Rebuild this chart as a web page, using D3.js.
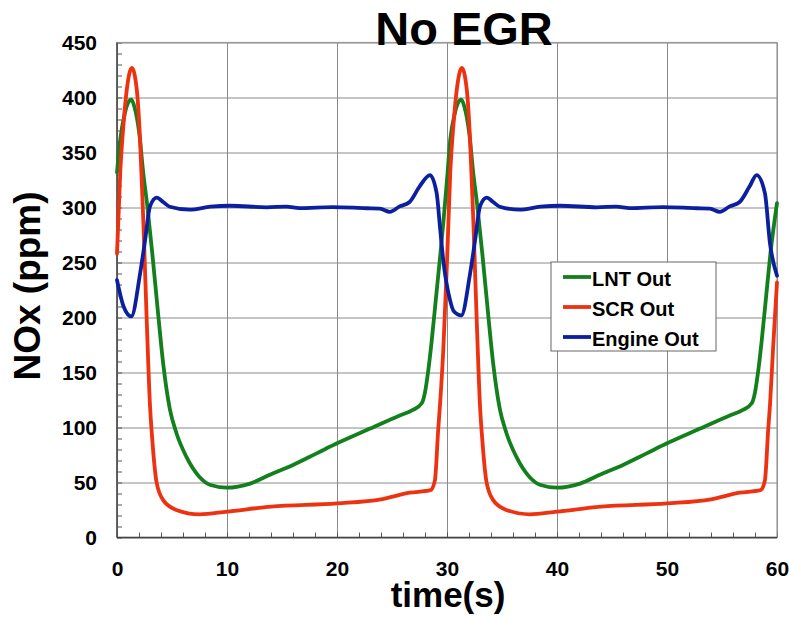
<!DOCTYPE html>
<html>
<head>
<meta charset="utf-8">
<script src="https://cdn.jsdelivr.net/npm/d3@7"></script>
<style>
  body { margin: 0; background: #fff; }
  text { font-family: "Liberation Sans", Arial, sans-serif; font-weight: bold; fill: #000; }
</style>
</head>
<body>
<div id="chart"></div>
<script>
// time (s) and NOx (ppm), one pair of arrays per series
var lntTime = [0, 0.3, 0.7, 1.0, 1.3, 1.6, 2.03, 2.39, 2.76, 3.24, 3.76, 4.2, 4.8, 5.4, 6.3, 7.5, 8.5, 10, 12.1, 13.9, 16, 18.15, 20, 23, 25.7, 26.9, 27.7, 28.0, 28.3, 28.6, 29.0, 29.4, 29.7,
    30, 30.3, 30.7, 31.0, 31.3, 31.6, 32.03, 32.39, 32.76, 33.24, 33.76, 34.2, 34.8, 35.4, 36.3, 37.5, 38.5, 40, 42.1, 43.9, 46, 48.15, 50, 53, 55.7, 56.9, 57.7, 58.0, 58.3, 58.6, 59.0, 59.4, 60];
var lntValues = [332, 362, 385, 395, 398, 391, 367, 331, 301, 255, 201, 158, 117, 95, 73.5, 55, 47.7, 45.3, 49, 57, 66, 76.5, 85.6, 99, 111, 116, 122, 132, 152, 178, 218, 258, 290,
    325, 362, 385, 395, 398, 391, 367, 331, 301, 255, 201, 158, 117, 95, 73.5, 55, 47.7, 45.3, 49, 57, 66, 76.5, 85.6, 99, 111, 116, 122, 132, 152, 178, 218, 258, 304];

var scrTime = [0, 0.3, 0.6, 0.9, 1.35, 1.8, 2.1, 2.4, 2.7, 3.0, 3.2, 3.6, 4.2, 5.4, 7.5, 10, 14, 20, 24, 26.6, 28.5, 28.9, 29.2, 29.36, 29.66,
    30, 30.3, 30.6, 30.9, 31.35, 31.8, 32.1, 32.4, 32.7, 33.0, 33.2, 33.6, 34.2, 35.4, 37.5, 40, 44, 50, 54, 56.6, 58.5, 58.9, 59.2, 59.36, 59.66, 60];
var scrValues = [258, 333, 377, 408, 427, 407, 361, 286, 198, 120, 90, 50, 34, 25, 21, 23.5, 28, 31, 34.7, 40.7, 43, 52, 98, 120, 170,
    250, 333, 377, 408, 427, 407, 361, 286, 198, 120, 90, 50, 34, 25, 21, 23.5, 28, 31, 34.7, 40.7, 43, 52, 98, 120, 175, 232];

var engineTime = [0, 0.6, 1.3, 2.1, 2.55, 3.0, 3.6, 4.2, 4.8, 6.6, 8.5, 10.3, 13.6, 15.4, 16.6, 19.6, 22.7, 23.9, 24.8, 25.7, 26.6, 27.5, 28.45, 29.06, 29.36, 29.66,
    30.27, 30.6, 31.3, 32.1, 32.55, 33.0, 33.6, 34.2, 34.8, 36.6, 38.5, 40.3, 43.6, 45.4, 46.6, 49.6, 52.7, 53.9, 54.8, 55.7, 56.6, 57.5, 58.15, 58.9, 59.36, 60];
var engineValues = [234, 210, 201, 240, 270, 301, 309, 305, 300.7, 298, 300.7, 301.6, 300.2, 300.8, 299.5, 300.4, 299.3, 299, 296, 301, 305, 319, 329.5, 313, 282.5, 252,
    216, 206, 202, 240, 270, 301, 309, 305, 300.7, 298, 300.7, 301.6, 300.2, 300.8, 299.5, 300.4, 299.3, 299, 296, 301, 305, 319, 329.5, 313, 267.5, 238];

var seriesNames = ["LNT Out", "SCR Out", "Engine Out"];
var seriesColors = ["#13801d", "#ec3210", "#0c1f9f"];
var xMajorTicks = [0, 10, 20, 30, 40, 50, 60];
var yMajorTicks = [0, 50, 100, 150, 200, 250, 300, 350, 400, 450];

var width = 789, height = 617;
var margin = { top: 42.5, right: 12, bottom: 79.5, left: 117 };

var svg = d3.select("#chart").append("svg")
    .attr("width", width)
    .attr("height", height);

var x = d3.scaleLinear().domain([0, 60]).range([margin.left, width - margin.right]);
var y = d3.scaleLinear().domain([0, 450]).range([height - margin.bottom, margin.top]);
var plotH = y(0) - y(450);

// gridlines
svg.append("g")
    .attr("class", "grid")
    .attr("transform", "translate(0," + y(0) + ")")
    .call(d3.axisBottom(x).tickValues(xMajorTicks).tickSize(-plotH).tickFormat(""));
svg.append("g")
    .attr("class", "grid")
    .attr("transform", "translate(" + x(0) + ",0)")
    .call(d3.axisLeft(y).tickValues(yMajorTicks).tickSize(-(x(60) - x(0))).tickFormat(""));
svg.selectAll(".grid .domain").remove();
svg.selectAll(".grid line").attr("stroke", "#8a8a8a").attr("stroke-width", 1);

// minor ticks pointing inward
svg.append("g")
    .attr("class", "minor")
    .attr("transform", "translate(0," + y(0) + ")")
    .call(d3.axisBottom(x).tickValues(d3.range(0, 61, 2)).tickSize(-5).tickFormat(""));
svg.append("g")
    .attr("class", "minor")
    .attr("transform", "translate(" + x(0) + ",0)")
    .call(d3.axisLeft(y).tickValues(d3.range(0, 451, 10)).tickSize(-5).tickFormat(""));
svg.selectAll(".minor .domain").remove();
svg.selectAll(".minor line").attr("stroke", "#555").attr("stroke-width", 1);

// plot frame
svg.append("rect")
    .attr("x", x(0)).attr("y", y(450))
    .attr("width", x(60) - x(0)).attr("height", plotH)
    .attr("fill", "none").attr("stroke", "#999").attr("stroke-width", 1.2);
svg.append("line")
    .attr("x1", x(0)).attr("x2", x(60)).attr("y1", y(0)).attr("y2", y(0))
    .attr("stroke", "#444").attr("stroke-width", 1.5);
svg.append("line")
    .attr("x1", x(0)).attr("x2", x(0)).attr("y1", y(0)).attr("y2", y(450))
    .attr("stroke", "#444").attr("stroke-width", 1.5);

// tick labels
var xLab = svg.append("g")
    .attr("transform", "translate(0," + y(0) + ")")
    .call(d3.axisBottom(x).tickValues(xMajorTicks).tickSize(0).tickPadding(24));
var yLab = svg.append("g")
    .attr("transform", "translate(" + x(0) + ",0)")
    .call(d3.axisLeft(y).tickValues(yMajorTicks).tickSize(0).tickPadding(20));
[xLab, yLab].forEach(function (g) {
    g.select(".domain").remove();
    g.selectAll("text")
        .attr("fill", "#000")
        .style("font-size", "21px")
        .style("font-family", "'Liberation Sans', Arial, sans-serif")
        .style("font-weight", "bold");
});

// series lines
var line = d3.line()
    .x(function (d) { return x(d[0]); })
    .y(function (d) { return y(d[1]); })
    .curve(d3.curveMonotoneX);

var series = [
    d3.zip(lntTime, lntValues),
    d3.zip(scrTime, scrValues),
    d3.zip(engineTime, engineValues)
];

svg.selectAll(".series")
    .data(series)
    .enter().append("path")
    .attr("class", "series")
    .attr("d", line)
    .attr("fill", "none")
    .attr("stroke", function (d, i) { return seriesColors[i]; })
    .attr("stroke-width", 3.8)
    .attr("stroke-linejoin", "round")
    .attr("stroke-linecap", "round");

// title and axis titles
svg.append("text")
    .attr("x", 464).attr("y", 45)
    .attr("text-anchor", "middle")
    .style("font-size", "47px")
    .text("No EGR");

svg.append("text")
    .attr("x", 448).attr("y", 607)
    .attr("text-anchor", "middle")
    .style("font-size", "35px")
    .text("time(s)");

svg.append("text")
    .attr("transform", "translate(40,286) rotate(-90)")
    .attr("text-anchor", "middle")
    .style("font-size", "37px")
    .text("NOx (ppm)");

// legend
var legend = svg.append("g").attr("transform", "translate(551,262)");
legend.append("rect")
    .attr("width", 165).attr("height", 89)
    .attr("fill", "#fff").attr("stroke", "#666").attr("stroke-width", 1);
var item = legend.selectAll(".item")
    .data(seriesNames)
    .enter().append("g")
    .attr("class", "item")
    .attr("transform", function (d, i) { return "translate(0," + (15 + i * 30) + ")"; });
item.append("line")
    .attr("x1", 12).attr("x2", 40)
    .attr("stroke", function (d, i) { return seriesColors[i]; })
    .attr("stroke-width", 3.8);
item.append("text")
    .attr("x", 41).attr("y", 9)
    .style("font-size", "20px")
    .text(function (d) { return d; });
</script>
</body>
</html>
